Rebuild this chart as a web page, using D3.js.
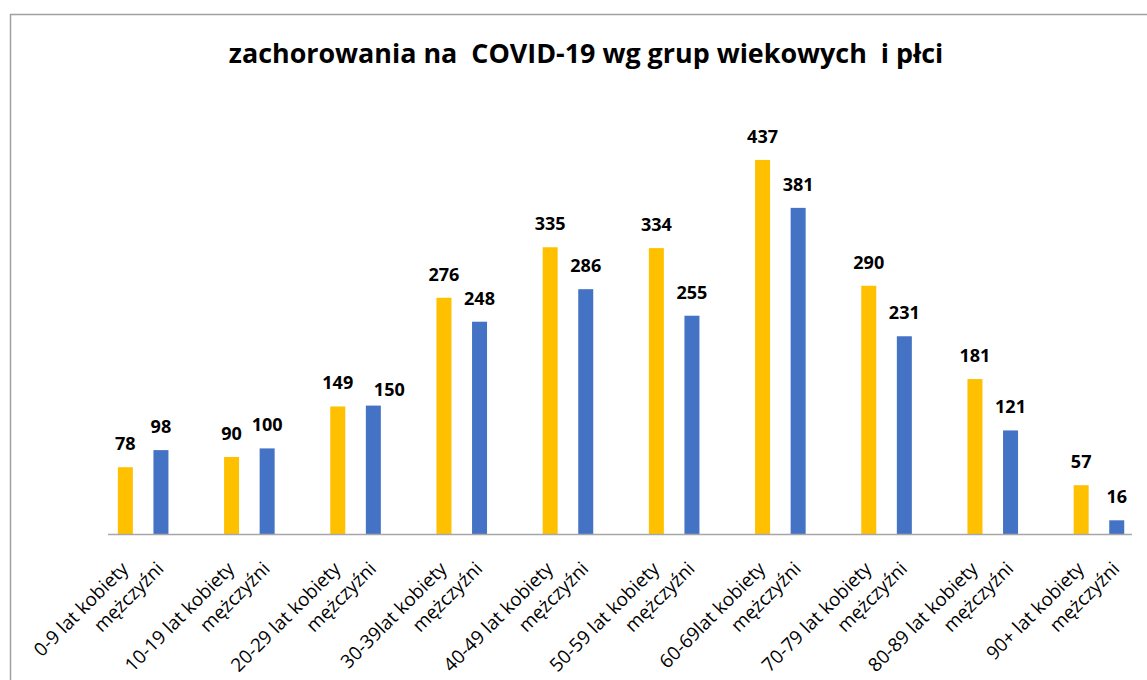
<!DOCTYPE html>
<html>
<head>
<meta charset="utf-8">
<script src="https://cdn.jsdelivr.net/npm/d3@7"></script>
<style>
  body { margin: 0; background: #fff; }
  svg { display: block; font-family: "Open Sans", Lato, sans-serif; }
</style>
</head>
<body>
<div id="chart"></div>
<script>
// Data
const groups = ["0-9 lat kobiety", "10-19 lat kobiety", "20-29 lat kobiety", "30-39lat kobiety",
    "40-49 lat kobiety", "50-59 lat kobiety", "60-69lat kobiety", "70-79 lat kobiety",
    "80-89 lat kobiety", "90+ lat kobiety"];
const menLabel = "mężczyźni";
const women = [78, 90, 149, 276, 335, 334, 437, 290, 181, 57];
const men = [98, 100, 150, 248, 286, 255, 381, 231, 121, 16];
const series = ["kobiety", "mezczyzni"];
const colors = ["#FFC000", "#4472C4"];

const width = 1147, height = 680;

const svg = d3.select("#chart").append("svg")
    .attr("width", width)
    .attr("height", height);

// chart frame
svg.append("rect")
    .attr("x", 10.5).attr("y", 14.5)
    .attr("width", 1160).attr("height", 700)
    .attr("fill", "none")
    .attr("stroke", "#a0a0a0")
    .attr("stroke-width", 1.5);

// Title, sized to the reference width
const title = svg.append("text")
    .attr("x", 586)
    .attr("y", 63)
    .attr("text-anchor", "middle")
    .attr("font-weight", "bold")
    .attr("font-size", 26)
    .attr("fill", "#000")
    .style("white-space", "pre")
    .text("zachorowania na  COVID-19 wg grup wiekowych  i płci");
const tw = title.node().getComputedTextLength();
title.attr("font-size", 26 * 715 / tw);

// Scales
const x0 = d3.scaleBand()
    .domain(groups)
    .range([90, 1152]);

const x1 = d3.scalePoint()
    .domain(series)
    .range([x0.bandwidth() * 0.333, x0.bandwidth() * 0.668]);

const y = d3.scaleLinear()
    .domain([0, 500])
    .range([534, 106]);

const barW = 15;

const rows = groups.map((g, i) => ({ group: g, values: [
    { key: "kobiety", value: women[i], label: g },
    { key: "mezczyzni", value: men[i], label: menLabel }
]}));

const gGroups = svg.append("g").selectAll("g")
    .data(rows)
    .join("g")
    .attr("transform", d => `translate(${x0(d.group)},0)`);

gGroups.selectAll("rect")
    .data(d => d.values)
    .join("rect")
    .attr("x", d => x1(d.key) - barW / 2)
    .attr("y", d => y(d.value))
    .attr("width", barW)
    .attr("height", d => y(0) - y(d.value))
    .attr("fill", (d, i) => colors[i]);

// value labels (the "150" label was nudged right and down in the original)
const moved = d => d.key === "mezczyzni" && d.value === 150;
const valueLabels = gGroups.selectAll("text.value")
    .data(d => d.values)
    .join("text")
    .attr("class", "value")
    .attr("x", d => x1(d.key) + (moved(d) ? 16 : 0))
    .attr("y", d => y(d.value) - 17 + (moved(d) ? 7 : 0))
    .attr("text-anchor", "middle")
    .attr("font-weight", "bold")
    .attr("font-size", 18)
    .attr("fill", "#000")
    .text(d => d.value);
const vw = valueLabels.filter(d => d.value === 437).node().getComputedTextLength();
valueLabels.attr("font-size", 18 * 31 / vw);

// x axis line
svg.append("line")
    .attr("x1", 108).attr("x2", 1132)
    .attr("y1", y(0) + 0.5).attr("y2", y(0) + 0.5)
    .attr("stroke", "#a6a6a6")
    .attr("stroke-width", 1.5);

// category labels, rotated
const tickLabels = gGroups.selectAll("text.tick")
    .data(d => d.values)
    .join("text")
    .attr("class", "tick")
    .attr("transform", d => `translate(${x1(d.key) + 4},${y(0) + 36}) rotate(-45)`)
    .attr("text-anchor", "end")
    .attr("font-size", 17)
    .attr("fill", "#000")
    .text(d => d.label);
const lw = tickLabels.filter(d => d.label === groups[0]).node().getComputedTextLength();
tickLabels.attr("font-size", 17 * 124 / lw);
</script>
</body>
</html>
